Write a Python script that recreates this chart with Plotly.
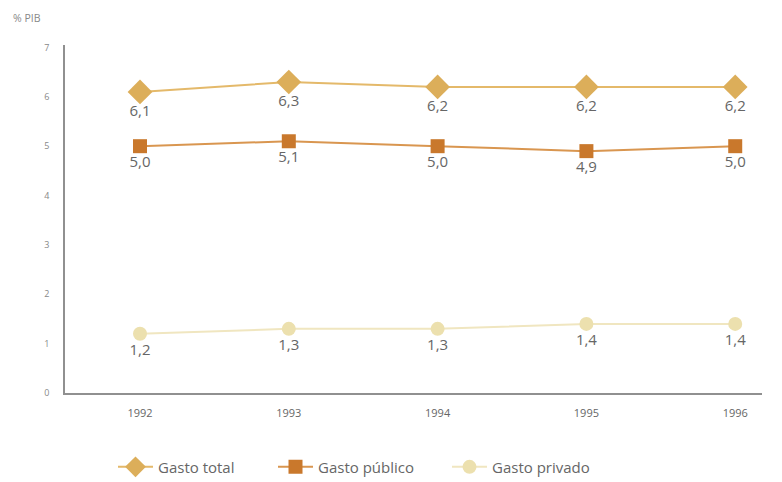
import plotly.graph_objects as go

years = [1992, 1993, 1994, 1995, 1996]
gasto_total = [6.1, 6.3, 6.2, 6.2, 6.2]
gasto_publico = [5.0, 5.1, 5.0, 4.9, 5.0]
gasto_privado = [1.2, 1.3, 1.3, 1.4, 1.4]

def fmt(v):
    return f"{v:.1f}".replace(".", ",")

series = [
    ("Gasto total", gasto_total, "#e4b96a", "#dcae5a", "diamond", 19, "legend"),
    ("Gasto público", gasto_publico, "#d99650", "#c9782c", "square", 14, "legend2"),
    ("Gasto privado", gasto_privado, "#f0e6c0", "#ece0ae", "circle", 14, "legend3"),
]

fig = go.Figure()
for name, vals, lc, mc, sym, sz, lg in series:
    fig.add_trace(go.Scatter(
        x=years, y=vals, name=name, mode="lines+markers+text",
        text=[fmt(v) for v in vals], textposition="bottom center",
        textfont=dict(size=15, color="#666666", family="Open Sans"),
        line=dict(color=lc, width=2),
        marker=dict(symbol=sym, size=sz, color=mc),
        legend=lg,
    ))

W_PLOT = 697.0
def lx(px):
    return (px - 65) / W_PLOT

leg_common = dict(orientation="h", yanchor="middle", y=-0.213, xanchor="left",
                  font=dict(size=15, color="#666666"), itemwidth=35,
                  bgcolor="rgba(0,0,0,0)")

fig.update_layout(
    width=782, height=482,
    margin=dict(l=65, r=20, t=45, b=89, autoexpand=False),
    paper_bgcolor="white", plot_bgcolor="white",
    font=dict(family="Open Sans", color="#666666"),
    showlegend=True,
    legend=dict(x=lx(113), **leg_common),
    legend2=dict(x=lx(273), **leg_common),
    legend3=dict(x=lx(447), **leg_common),
    xaxis=dict(range=[1991.496, 1996.18], tickvals=years, ticktext=[str(y) for y in years],
               showgrid=False, zeroline=False, showline=True, linecolor="#909090", linewidth=1.5,
               tickfont=dict(size=11, color="#666666"), ticks="", ticklabelstandoff=9),
    yaxis=dict(range=[0, 7.05], tickvals=list(range(8)), showgrid=False, zeroline=False,
               showline=True, linecolor="#909090", linewidth=1.5,
               tickfont=dict(size=9, color="#888888"), ticks="", ticklabelstandoff=12),
    annotations=[dict(text="% PIB", xref="paper", yref="paper", x=lx(11), y=1.078,
                      xanchor="left", yanchor="middle", showarrow=False,
                      font=dict(size=10.5, color="#888888"))],
)

fig.write_html("out.html", config={"displayModeBar": False},
               post_script="document.body.style.margin='0';")
